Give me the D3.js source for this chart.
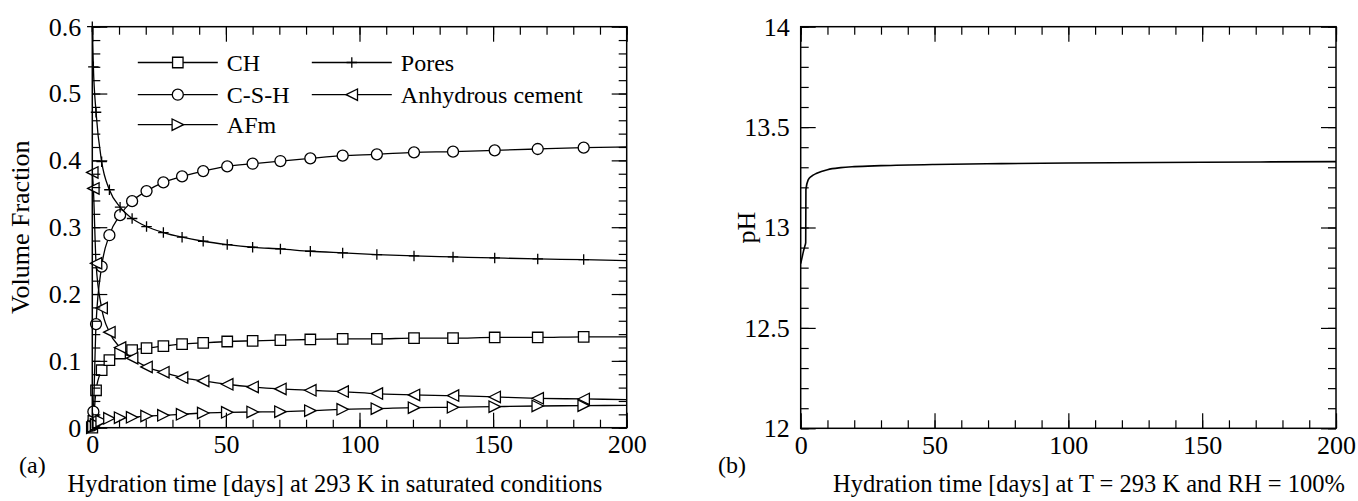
<!DOCTYPE html>
<html>
<head>
<meta charset="utf-8">
<script src="https://cdn.jsdelivr.net/npm/d3@7"></script>
<style>
    body { margin: 0; background: #fff; }
    #vis { width: 1358px; height: 501px; }
    text { font-family: 'Liberation Serif', 'Times New Roman', serif; fill: #000; }
</style>
</head>
<body>
<div id="vis"></div>
<script>
// sampled output times (days) of the simulation, last one is end of line only
var days = [0, 0.4, 1.4, 3.5, 6.4, 10.4, 14.9, 20.3, 26.6, 33.6, 41.5, 50.5, 60, 70.4, 81.6, 93.7, 106.5, 120.4, 135, 150.6, 166.7, 183.9, 200];

var ch = [0, 0.01, 0.056, 0.086, 0.101, 0.111, 0.116, 0.119, 0.122, 0.125, 0.127, 0.129, 0.130, 0.131, 0.132, 0.133, 0.133, 0.134, 0.134, 0.135, 0.135, 0.136, 0.136];
var csh = [0.003, 0.024, 0.155, 0.241, 0.288, 0.318, 0.339, 0.354, 0.367, 0.376, 0.384, 0.391, 0.395, 0.399, 0.403, 0.407, 0.409, 0.412, 0.413, 0.415, 0.417, 0.419, 0.420];
var afm = [0, 0.002, 0.005, 0.010, 0.014, 0.015, 0.0155, 0.0175, 0.0185, 0.020, 0.022, 0.023, 0.0235, 0.024, 0.0255, 0.0275, 0.0285, 0.030, 0.0305, 0.0315, 0.0325, 0.033, 0.0335];
var pores = [0.6, 0.54, 0.472, 0.398, 0.356, 0.330, 0.313, 0.301, 0.292, 0.285, 0.279, 0.274, 0.270, 0.2675, 0.264, 0.2615, 0.259, 0.257, 0.2555, 0.254, 0.2525, 0.2515, 0.250];
var anhydrous = [0.382, 0.358, 0.246, 0.179, 0.143, 0.120, 0.104, 0.091, 0.083, 0.075, 0.070, 0.065, 0.061, 0.058, 0.056, 0.054, 0.051, 0.049, 0.048, 0.046, 0.044, 0.043, 0.042];

var phDays = [0, 0.5, 1, 1.5, 1.87, 1.95, 2.8, 4, 6, 10, 15, 20, 30, 50, 75, 100, 150, 200];
var phValues = [12.82, 12.85, 12.88, 12.905, 12.925, 13.19, 13.237, 13.255, 13.27, 13.288, 13.298, 13.303, 13.308, 13.314, 13.318, 13.321, 13.325, 13.328];

var xTicks = [0, 50, 100, 150, 200];
var xLabels = ['0', '50', '100', '150', '200'];
var yTicksA = [0, 0.1, 0.2, 0.3, 0.4, 0.5, 0.6];
var yLabelsA = ['0', '0.1', '0.2', '0.3', '0.4', '0.5', '0.6'];
var yTicksB = [12, 12.5, 13, 13.5, 14];
var yLabelsB = ['12', '12.5', '13', '13.5', '14'];

var legendLeft = ['CH', 'C-S-H', 'AFm'];
var legendRight = ['Pores', 'Anhydrous cement'];

var fontSize = '24px';
var tickFont = '26px';

// custom marker shapes for d3.symbol
var symbolPlus = {
    draw: function(ctx, size) {
        var r = Math.sqrt(size) / 2;
        ctx.moveTo(-r, 0); ctx.lineTo(r, 0);
        ctx.moveTo(0, -r); ctx.lineTo(0, r);
    }
};
var symbolTriLeft = {
    draw: function(ctx, size) {
        var r = Math.sqrt(size) / 2;
        ctx.moveTo(-r, 0); ctx.lineTo(r, -r); ctx.lineTo(r, r); ctx.closePath();
    }
};
var symbolTriRight = {
    draw: function(ctx, size) {
        var r = Math.sqrt(size) / 2;
        ctx.moveTo(r, 0); ctx.lineTo(-r, -r); ctx.lineTo(-r, r); ctx.closePath();
    }
};

var series = [
    { name: 'CH', values: ch, symbol: d3.symbolSquare, size: 110 },
    { name: 'C-S-H', values: csh, symbol: d3.symbolCircle, size: 95 },
    { name: 'AFm', values: afm, symbol: symbolTriRight, size: 130 },
    { name: 'Pores', values: pores, symbol: symbolPlus, size: 110 },
    { name: 'Anhydrous cement', values: anhydrous, symbol: symbolTriLeft, size: 130 }
];

var svg = d3.select('#vis')
    .append('svg')
    .attr('width', 1358)
    .attr('height', 501);

function range(a, b, step) {
    var out = [];
    for (var v = a; v <= b + step / 2; v += step) out.push(+v.toFixed(4));
    return out;
}

function drawFrame(g, x, y, w, h, yTicks, yLabels, yMinor) {
    var xMinor = range(0, 200, 10);

    g.append('g')
        .attr('transform', 'translate(0,' + h + ')')
        .call(d3.axisBottom(x).tickValues(xMinor).tickSize(-8).tickFormat(''));
    g.append('g')
        .attr('transform', 'translate(0,' + h + ')')
        .call(d3.axisBottom(x).tickValues(xTicks).tickSize(-15).tickPadding(7)
            .tickFormat(function(d, i) { return xLabels[i]; }));
    g.append('g')
        .call(d3.axisTop(x).tickValues(xMinor).tickSize(-8).tickFormat(''));
    g.append('g')
        .call(d3.axisTop(x).tickValues(xTicks).tickSize(-15).tickFormat(''));

    g.append('g')
        .call(d3.axisLeft(y).tickValues(yMinor).tickSize(-8).tickFormat(''));
    g.append('g')
        .call(d3.axisLeft(y).tickValues(yTicks).tickSize(-15).tickPadding(11)
            .tickFormat(function(d, i) { return yLabels[i]; }));
    g.append('g')
        .attr('transform', 'translate(' + w + ',0)')
        .call(d3.axisRight(y).tickValues(yMinor).tickSize(-8).tickFormat(''));
    g.append('g')
        .attr('transform', 'translate(' + w + ',0)')
        .call(d3.axisRight(y).tickValues(yTicks).tickSize(-15).tickFormat(''));

    g.selectAll('.domain').remove();
    g.selectAll('.tick line').attr('stroke', '#000').attr('stroke-width', 1.2);
    g.selectAll('.tick text')
        .style('font-size', tickFont)
        .style('font-family', "'Liberation Serif', 'Times New Roman', serif");

    g.append('rect')
        .attr('width', w)
        .attr('height', h)
        .attr('fill', 'none')
        .attr('stroke', '#000')
        .attr('stroke-width', 1.5);
}

// ---------- panel (a) ----------
var ma = { left: 92.3, top: 26.7 };
var wa = 534.4, ha = 401;
var ga = svg.append('g').attr('transform', 'translate(' + ma.left + ',' + ma.top + ')');

var xa = d3.scaleLinear().domain([0, 200]).range([0, wa]);
var ya = d3.scaleLinear().domain([0, 0.6]).range([ha, 0]);

var lineA = d3.line()
    .x(function(d) { return xa(d.t); })
    .y(function(d) { return ya(d.v); })
    .curve(d3.curveMonotoneX);

series.forEach(function(s) {
    var pts = days.map(function(t, i) { return { t: t, v: s.values[i] }; });
    ga.append('path')
        .datum(pts)
        .attr('fill', 'none')
        .attr('stroke', '#000')
        .attr('stroke-width', 1.3)
        .attr('d', lineA);
    ga.selectAll(null)
        .data(pts.filter(function(d) { return d.t < 200; }))
        .enter()
        .append('path')
        .attr('transform', function(d) { return 'translate(' + xa(d.t) + ',' + ya(d.v) + ')'; })
        .attr('d', d3.symbol().type(s.symbol).size(s.size))
        .attr('fill', '#fff')
        .attr('stroke', '#000')
        .attr('stroke-width', 1.3);
});

drawFrame(ga, xa, ya, wa, ha, yTicksA, yLabelsA, range(0, 0.6, 0.02));

// legend
var legendRows = [35.8, 68, 98];
function legendItem(x0, row, s) {
    var lg = ga.append('g').attr('transform', 'translate(' + x0 + ',' + legendRows[row] + ')');
    lg.append('line')
        .attr('x1', 0).attr('x2', 80)
        .attr('stroke', '#000').attr('stroke-width', 1.3);
    lg.append('path')
        .attr('transform', 'translate(40,0)')
        .attr('d', d3.symbol().type(s.symbol).size(s.size))
        .attr('fill', '#fff')
        .attr('stroke', '#000')
        .attr('stroke-width', 1.3);
    lg.append('text')
        .attr('x', 89)
        .attr('dy', '0.35em')
        .style('font-size', fontSize)
        .text(s.name);
}
legendLeft.forEach(function(n, i) {
    legendItem(45.5, i, series.find(function(s) { return s.name === n; }));
});
legendRight.forEach(function(n, i) {
    legendItem(219.5, i, series.find(function(s) { return s.name === n; }));
});

ga.append('text')
    .attr('transform', 'translate(-72,' + ha / 2 + ') rotate(-90)')
    .attr('text-anchor', 'middle')
    .attr('dy', '0.35em')
    .style('font-size', tickFont)
    .text('Volume Fraction');

svg.append('text')
    .attr('x', 335)
    .attr('y', 492)
    .attr('text-anchor', 'middle')
    .style('font-size', '24.5px')
    .text('Hydration time [days] at 293 K in saturated conditions');

svg.append('text')
    .attr('x', 19)
    .attr('y', 473)
    .style('font-size', fontSize)
    .text('(a)');

// ---------- panel (b) ----------
var mb = { left: 800.7, top: 26.7 };
var wb = 535.3, hb = 401.6;
var gb = svg.append('g').attr('transform', 'translate(' + mb.left + ',' + mb.top + ')');

var xb = d3.scaleLinear().domain([0, 200]).range([0, wb]);
var yb = d3.scaleLinear().domain([12, 14]).range([hb, 0]);

var lineB = d3.line()
    .x(function(d) { return xb(d.t); })
    .y(function(d) { return yb(d.v); })
    .curve(d3.curveMonotoneX);

gb.append('path')
    .datum(phDays.map(function(t, i) { return { t: t, v: phValues[i] }; }))
    .attr('fill', 'none')
    .attr('stroke', '#000')
    .attr('stroke-width', 1.6)
    .attr('d', lineB);

drawFrame(gb, xb, yb, wb, hb, yTicksB, yLabelsB, range(12, 14, 0.1));

gb.append('text')
    .attr('transform', 'translate(-55,' + hb / 2 + ') rotate(-90)')
    .attr('text-anchor', 'middle')
    .attr('dy', '0.35em')
    .style('font-size', tickFont)
    .text('pH');

svg.append('text')
    .attr('x', 1089)
    .attr('y', 492)
    .attr('text-anchor', 'middle')
    .style('font-size', '24.5px')
    .text('Hydration time [days] at T = 293 K and RH = 100%');

svg.append('text')
    .attr('x', 718)
    .attr('y', 473)
    .style('font-size', fontSize)
    .text('(b)');
</script>
</body>
</html>
